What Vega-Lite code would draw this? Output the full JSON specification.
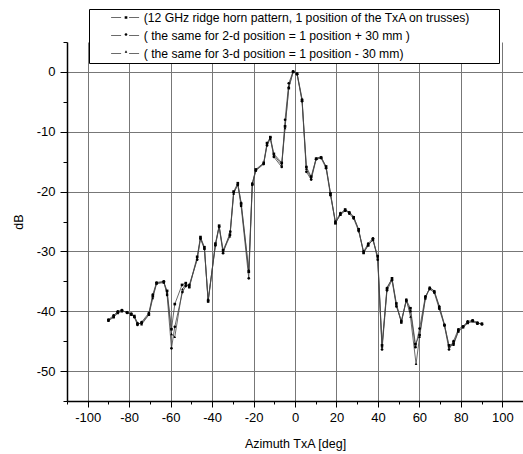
{
  "$schema": "https://vega.github.io/schema/vega-lite/v6.json",
  "width": 456,
  "height": 359,
  "autosize": {"type": "none"},
  "padding": {"left": 67, "top": 42, "right": 0, "bottom": 53},
  "background": "white",
  "config": {
    "view": {"stroke": null},
    "font": "Liberation Sans",
    "axis": {
      "labelFont": "Liberation Sans",
      "titleFont": "Liberation Sans",
      "labelColor": "black",
      "titleColor": "black",
      "domainColor": "black",
      "domainWidth": 1.5,
      "tickColor": "black",
      "tickWidth": 1,
      "gridColor": "#777777",
      "gridWidth": 1,
      "labelOverlap": false,
      "titleFontWeight": "normal"
    }
  },
  "data": {
    "values": [
      {"s":"1","az":-90,"db":-41.5},{"s":"1","az":-87.5,"db":-40.9},{"s":"1","az":-85.5,"db":-40.2},{"s":"1","az":-83.5,"db":-39.9},{"s":"1","az":-81,"db":-40.2},{"s":"1","az":-79,"db":-40.5},{"s":"1","az":-77.5,"db":-40.8},{"s":"1","az":-76,"db":-42.1},{"s":"1","az":-74,"db":-42.0},{"s":"1","az":-70.5,"db":-40.5},{"s":"1","az":-68.6,"db":-37.5},{"s":"1","az":-66.8,"db":-35.3},{"s":"1","az":-63.3,"db":-35.1},{"s":"1","az":-61.7,"db":-36.6},{"s":"1","az":-59.6,"db":-43.0},{"s":"1","az":-58,"db":-38.8},{"s":"1","az":-54.5,"db":-35.6},{"s":"1","az":-52.7,"db":-35.3},{"s":"1","az":-51,"db":-35.9},{"s":"1","az":-47.2,"db":-30.9},{"s":"1","az":-45.6,"db":-27.6},{"s":"1","az":-43.7,"db":-29.3},{"s":"1","az":-41.9,"db":-38.3},{"s":"1","az":-38.4,"db":-28.7},{"s":"1","az":-36.6,"db":-25.7},{"s":"1","az":-34.7,"db":-29.8},{"s":"1","az":-31.4,"db":-27.2},{"s":"1","az":-29.6,"db":-20.0},{"s":"1","az":-27.6,"db":-18.6},{"s":"1","az":-26,"db":-22.0},{"s":"1","az":-22.3,"db":-33.4},{"s":"1","az":-20.6,"db":-18.7},{"s":"1","az":-18.9,"db":-16.3},{"s":"1","az":-15.1,"db":-15.2},{"s":"1","az":-13.5,"db":-11.9},{"s":"1","az":-11.9,"db":-10.9},{"s":"1","az":-10.2,"db":-13.7},{"s":"1","az":-6.4,"db":-15.2},{"s":"1","az":-4.8,"db":-9.1},{"s":"1","az":-3.0,"db":-2.7},{"s":"1","az":-0.9,"db":0.0},{"s":"1","az":1.0,"db":-0.3},{"s":"1","az":3.4,"db":-4.7},{"s":"1","az":5.5,"db":-15.9},{"s":"1","az":7.8,"db":-17.5},{"s":"1","az":10.2,"db":-14.5},{"s":"1","az":12.6,"db":-14.3},{"s":"1","az":15,"db":-15.8},{"s":"1","az":17.1,"db":-20.3},{"s":"1","az":19.5,"db":-25.3},{"s":"1","az":21.9,"db":-23.8},{"s":"1","az":24.2,"db":-23.0},{"s":"1","az":26.2,"db":-23.5},{"s":"1","az":28.3,"db":-24.3},{"s":"1","az":30.7,"db":-26.3},{"s":"1","az":33.1,"db":-30.2},{"s":"1","az":35.3,"db":-29.0},{"s":"1","az":37.6,"db":-28.0},{"s":"1","az":39.9,"db":-30.8},{"s":"1","az":42,"db":-45.7},{"s":"1","az":44.4,"db":-36.2},{"s":"1","az":46.8,"db":-34.5},{"s":"1","az":48.9,"db":-38.7},{"s":"1","az":51.3,"db":-41.8},{"s":"1","az":53.7,"db":-38.1},{"s":"1","az":55.7,"db":-39.5},{"s":"1","az":58.1,"db":-45.5},{"s":"1","az":60.1,"db":-44.0},{"s":"1","az":62.9,"db":-37.7},{"s":"1","az":65,"db":-36.1},{"s":"1","az":67.2,"db":-36.7},{"s":"1","az":69.6,"db":-39.3},{"s":"1","az":72.1,"db":-42.3},{"s":"1","az":74.3,"db":-45.7},{"s":"1","az":76.5,"db":-45.4},{"s":"1","az":78.8,"db":-43.3},{"s":"1","az":81.1,"db":-42.6},{"s":"1","az":83.3,"db":-41.9},{"s":"1","az":85.7,"db":-41.6},{"s":"1","az":88,"db":-42.0},{"s":"1","az":90.2,"db":-42.1},
      {"s":"2","az":-90,"db":-41.4},{"s":"2","az":-87.5,"db":-40.7},{"s":"2","az":-85.5,"db":-40.0},{"s":"2","az":-83.5,"db":-39.8},{"s":"2","az":-81,"db":-40.3},{"s":"2","az":-79,"db":-40.4},{"s":"2","az":-77.5,"db":-41.0},{"s":"2","az":-76,"db":-42.3},{"s":"2","az":-74,"db":-41.8},{"s":"2","az":-70.5,"db":-40.3},{"s":"2","az":-68.6,"db":-37.2},{"s":"2","az":-66.8,"db":-35.2},{"s":"2","az":-63.3,"db":-35.0},{"s":"2","az":-61.7,"db":-37.3},{"s":"2","az":-59.6,"db":-46.2},{"s":"2","az":-58,"db":-42.6},{"s":"2","az":-54.3,"db":-36.8},{"s":"2","az":-52.7,"db":-35.8},{"s":"2","az":-51,"db":-35.6},{"s":"2","az":-47.2,"db":-31.4},{"s":"2","az":-45.6,"db":-27.9},{"s":"2","az":-43.7,"db":-29.6},{"s":"2","az":-41.9,"db":-38.1},{"s":"2","az":-38.4,"db":-29.0},{"s":"2","az":-36.6,"db":-25.9},{"s":"2","az":-34.7,"db":-30.3},{"s":"2","az":-31.2,"db":-26.7},{"s":"2","az":-29.6,"db":-20.2},{"s":"2","az":-27.6,"db":-18.9},{"s":"2","az":-26,"db":-22.4},{"s":"2","az":-22.3,"db":-34.5},{"s":"2","az":-20.6,"db":-18.9},{"s":"2","az":-18.9,"db":-16.5},{"s":"2","az":-15.1,"db":-15.4},{"s":"2","az":-13.5,"db":-12.3},{"s":"2","az":-11.9,"db":-11.0},{"s":"2","az":-10.2,"db":-14.2},{"s":"2","az":-6.4,"db":-15.9},{"s":"2","az":-4.8,"db":-8.0},{"s":"2","az":-3.0,"db":-1.9},{"s":"2","az":-0.9,"db":0.1},{"s":"2","az":1.0,"db":-0.4},{"s":"2","az":3.4,"db":-4.9},{"s":"2","az":5.5,"db":-16.7},{"s":"2","az":7.8,"db":-18.0},{"s":"2","az":10.2,"db":-14.6},{"s":"2","az":12.6,"db":-14.4},{"s":"2","az":15,"db":-16.1},{"s":"2","az":17.1,"db":-20.6},{"s":"2","az":19.5,"db":-25.0},{"s":"2","az":21.9,"db":-23.6},{"s":"2","az":24.2,"db":-23.1},{"s":"2","az":26.2,"db":-23.7},{"s":"2","az":28.3,"db":-24.5},{"s":"2","az":30.7,"db":-26.6},{"s":"2","az":33.1,"db":-30.0},{"s":"2","az":35.3,"db":-28.7},{"s":"2","az":37.6,"db":-27.8},{"s":"2","az":39.9,"db":-31.4},{"s":"2","az":42,"db":-46.4},{"s":"2","az":44.4,"db":-36.5},{"s":"2","az":46.8,"db":-34.8},{"s":"2","az":48.9,"db":-39.2},{"s":"2","az":51.3,"db":-41.6},{"s":"2","az":53.7,"db":-38.3},{"s":"2","az":55.7,"db":-40.0},{"s":"2","az":58.1,"db":-46.0},{"s":"2","az":60.1,"db":-42.9},{"s":"2","az":62.9,"db":-37.5},{"s":"2","az":65,"db":-36.3},{"s":"2","az":67.2,"db":-36.9},{"s":"2","az":69.6,"db":-39.6},{"s":"2","az":72.1,"db":-42.4},{"s":"2","az":74.3,"db":-46.4},{"s":"2","az":76.5,"db":-45.0},{"s":"2","az":78.8,"db":-43.0},{"s":"2","az":81.1,"db":-42.5},{"s":"2","az":83.3,"db":-41.7},{"s":"2","az":85.7,"db":-41.5},{"s":"2","az":88,"db":-41.9},{"s":"2","az":90.2,"db":-42.2},
      {"s":"3","az":-90,"db":-41.6},{"s":"3","az":-87.5,"db":-41.0},{"s":"3","az":-85.5,"db":-40.3},{"s":"3","az":-83.5,"db":-40.0},{"s":"3","az":-81,"db":-40.1},{"s":"3","az":-79,"db":-40.6},{"s":"3","az":-77.5,"db":-40.9},{"s":"3","az":-76,"db":-41.9},{"s":"3","az":-74,"db":-42.2},{"s":"3","az":-70.5,"db":-40.6},{"s":"3","az":-68.6,"db":-37.8},{"s":"3","az":-66.8,"db":-35.4},{"s":"3","az":-63.3,"db":-35.2},{"s":"3","az":-61.7,"db":-36.9},{"s":"3","az":-59.6,"db":-43.8},{"s":"3","az":-58,"db":-44.3},{"s":"3","az":-54.3,"db":-36.3},{"s":"3","az":-52.7,"db":-35.5},{"s":"3","az":-51,"db":-36.0},{"s":"3","az":-47.2,"db":-31.2},{"s":"3","az":-45.6,"db":-27.7},{"s":"3","az":-43.7,"db":-29.5},{"s":"3","az":-41.9,"db":-38.4},{"s":"3","az":-38.4,"db":-28.9},{"s":"3","az":-36.6,"db":-25.8},{"s":"3","az":-34.7,"db":-30.0},{"s":"3","az":-31.4,"db":-27.5},{"s":"3","az":-29.6,"db":-20.4},{"s":"3","az":-27.6,"db":-18.7},{"s":"3","az":-26,"db":-21.8},{"s":"3","az":-22.3,"db":-33.1},{"s":"3","az":-20.6,"db":-18.6},{"s":"3","az":-18.9,"db":-16.4},{"s":"3","az":-15.1,"db":-15.3},{"s":"3","az":-13.5,"db":-12.1},{"s":"3","az":-11.9,"db":-11.2},{"s":"3","az":-10.2,"db":-13.9},{"s":"3","az":-6.4,"db":-15.5},{"s":"3","az":-4.8,"db":-9.4},{"s":"3","az":-3.0,"db":-2.5},{"s":"3","az":-0.9,"db":0.0},{"s":"3","az":1.0,"db":-0.2},{"s":"3","az":3.4,"db":-4.5},{"s":"3","az":5.5,"db":-16.2},{"s":"3","az":7.8,"db":-17.8},{"s":"3","az":10.2,"db":-14.4},{"s":"3","az":12.6,"db":-14.2},{"s":"3","az":15,"db":-15.9},{"s":"3","az":17.1,"db":-20.2},{"s":"3","az":19.5,"db":-25.2},{"s":"3","az":21.9,"db":-23.9},{"s":"3","az":24.2,"db":-23.2},{"s":"3","az":26.2,"db":-23.4},{"s":"3","az":28.3,"db":-24.2},{"s":"3","az":30.7,"db":-26.4},{"s":"3","az":33.1,"db":-30.3},{"s":"3","az":35.3,"db":-28.9},{"s":"3","az":37.6,"db":-28.1},{"s":"3","az":39.9,"db":-31.0},{"s":"3","az":42,"db":-45.9},{"s":"3","az":44.4,"db":-36.0},{"s":"3","az":46.8,"db":-34.6},{"s":"3","az":48.9,"db":-38.9},{"s":"3","az":51.3,"db":-41.9},{"s":"3","az":53.7,"db":-38.0},{"s":"3","az":55.7,"db":-40.9},{"s":"3","az":58.4,"db":-48.8},{"s":"3","az":60.1,"db":-44.3},{"s":"3","az":62.9,"db":-37.9},{"s":"3","az":65,"db":-36.0},{"s":"3","az":67.2,"db":-36.6},{"s":"3","az":69.6,"db":-39.1},{"s":"3","az":72.1,"db":-42.2},{"s":"3","az":74.3,"db":-45.9},{"s":"3","az":76.5,"db":-45.6},{"s":"3","az":78.8,"db":-43.4},{"s":"3","az":81.1,"db":-42.7},{"s":"3","az":83.3,"db":-42.0},{"s":"3","az":85.7,"db":-41.7},{"s":"3","az":88,"db":-42.1},{"s":"3","az":90.2,"db":-42.0}
    ]
  },
  "encoding": {
    "x": {
      "field": "az", "type": "quantitative",
      "scale": {"domain": [-110, 110], "nice": false, "zero": false},
      "axis": {
        "title": "Azimuth TxA [deg]",
        "titleFontSize": 12.5,
        "titlePadding": 13,
        "labelFontSize": 13,
        "labelPadding": 4,
        "values": [-110,-100,-90,-80,-70,-60,-50,-40,-30,-20,-10,0,10,20,30,40,50,60,70,80,90,100,110],
        "labelExpr": "datum.value % 20 === 0 ? '' + datum.value : ''",
        "tickSize": {"condition": {"test": "datum.value % 20 === 0", "value": 6}, "value": 3},
        "gridOpacity": {"condition": {"test": "datum.value % 20 === 0", "value": 1}, "value": 0}
      }
    },
    "y": {
      "field": "db", "type": "quantitative",
      "scale": {"domain": [-55, 5], "nice": false, "zero": false},
      "axis": {
        "title": "dB",
        "titleFontSize": 12.5,
        "titlePadding": 11,
        "labelFontSize": 13,
        "labelPadding": 5,
        "values": [-55,-50,-45,-40,-35,-30,-25,-20,-15,-10,-5,0,5],
        "labelExpr": "datum.value % 10 === 0 ? '' + datum.value : ''",
        "tickSize": {"condition": {"test": "datum.value % 10 === 0", "value": 7}, "value": 4},
        "gridOpacity": {"condition": {"test": "datum.value % 10 === 0", "value": 1}, "value": 0}
      }
    }
  },
  "layer": [
    {
      "mark": {"type": "line", "strokeWidth": 0.8},
      "encoding": {
        "color": {
          "field": "s", "type": "nominal",
          "scale": {"domain": ["1", "2", "3"], "range": ["#444444", "#444444", "#444444"]},
          "legend": {
            "title": "\u00a0",
            "titleOrient": "right",
            "titlePadding": 26,
            "titleFontSize": 12,
            "orient": "none",
            "legendX": 22,
            "legendY": -33,
            "fillColor": "white",
            "strokeColor": "black",
            "padding": 2.5,
            "rowPadding": 5,
            "clipHeight": 12,
            "symbolType": "M-7,0H-2M2,0H7",
            "symbolSize": 16,
            "symbolStrokeWidth": 0.8,
            "symbolOffset": 27.5,
            "labelOffset": 12.5,
            "labelFont": "Liberation Sans",
            "labelFontSize": 12.2,
            "labelColor": "black",
            "labelLimit": 0,
            "zindex": 1,
            "labelExpr": "datum.value === '1' ? '(12 GHz ridge horn pattern, 1 position of the TxA on trusses)' : datum.value === '2' ? '( the same for 2-d position = 1 position + 30 mm )' : '( the same for 3-d position = 1 position - 30 mm)'"
          }
        }
      }
    },
    {
      "mark": {"type": "point", "filled": true, "color": "black", "opacity": 1, "size": 7},
      "encoding": {
        "shape": {
          "field": "s", "type": "nominal",
          "scale": {"range": ["square", "circle", "triangle-up"]},
          "legend": {
            "title": null,
            "orient": "none",
            "legendX": 22,
            "legendY": -33,
            "padding": 2.5,
            "rowPadding": 5,
            "clipHeight": 12,
            "symbolSize": 7,
            "symbolOffset": 28.5,
            "symbolFillColor": "black",
            "symbolStrokeColor": "black",
            "symbolStrokeWidth": 0,
            "labelFontSize": 12,
            "labelExpr": "''",
            "zindex": 2
          }
        }
      }
    }
  ]
}
